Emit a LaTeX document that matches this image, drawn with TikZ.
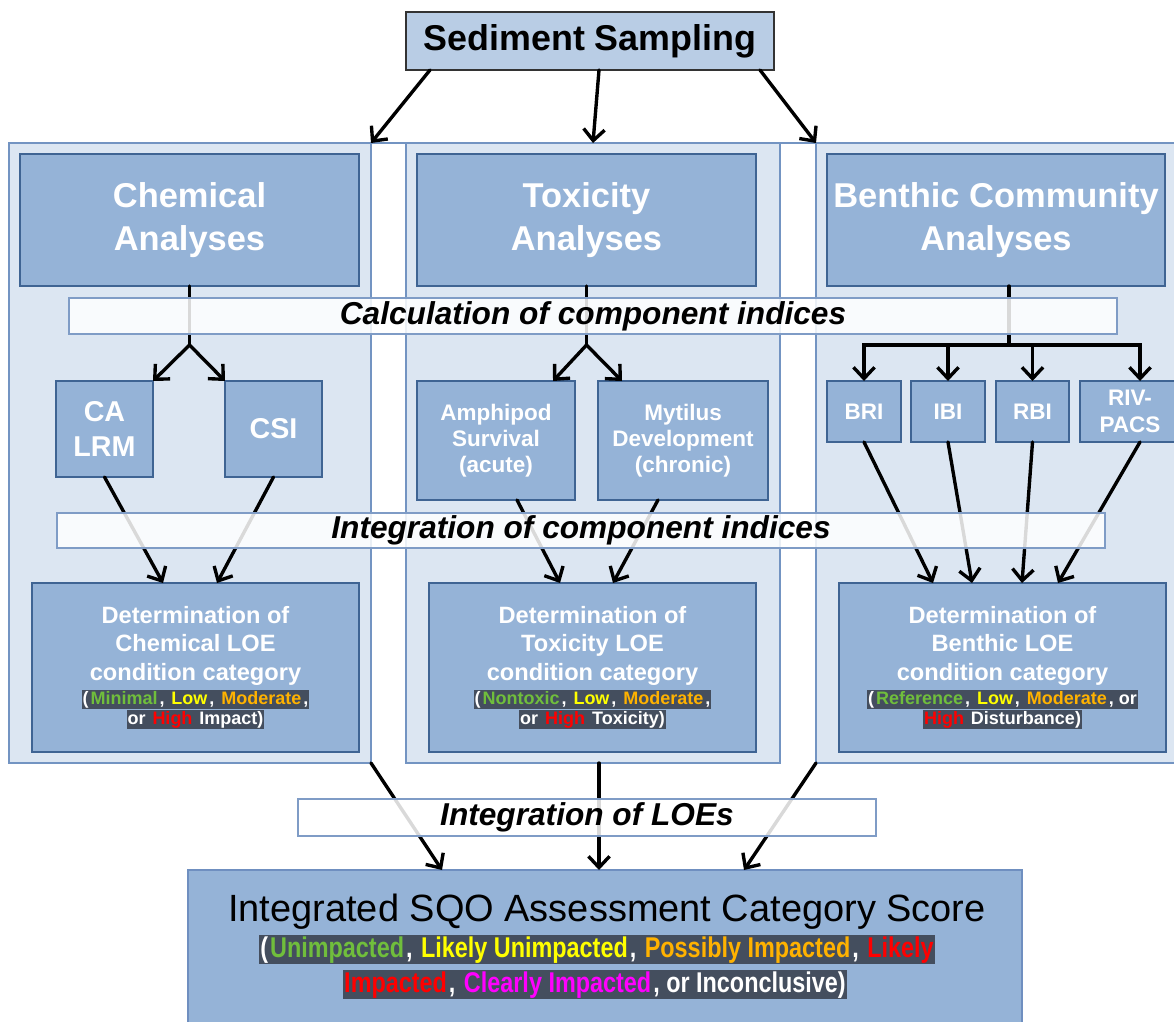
\documentclass[tikz,border=0pt]{standalone}
\usepackage{fontspec}
\setmainfont{Liberation Sans}
\newfontfamily\narrowfont[FakeStretch=0.82]{Liberation Sans}
\usetikzlibrary{arrows.meta,calc}
\definecolor{boxfill}{HTML}{95B3D7}
\definecolor{boxline}{HTML}{3F6493}
\definecolor{panelfill}{HTML}{DCE6F2}
\definecolor{panelline}{HTML}{7394C2}
\definecolor{sedfill}{HTML}{B9CDE5}
\definecolor{bandline}{HTML}{7F9CC6}
\definecolor{finline}{HTML}{6F8FC0}
\definecolor{halo}{RGB}{68,78,94}
\definecolor{cgreen}{RGB}{112,190,60}
\definecolor{cyellow}{RGB}{255,255,0}
\definecolor{corange}{RGB}{255,178,0}
\definecolor{cred}{RGB}{255,0,0}
\definecolor{cmag}{RGB}{255,0,255}
\newcommand\hl[2]{{\setlength\fboxsep{0.7pt}\colorbox{halo}{\vphantom{(}\textcolor{#1}{#2}}}}
\newcommand\sm[1]{{\fontsize{12.8}{14}\selectfont #1}}
\newcommand\rbox[7]{\node[#2, anchor=north west, minimum width={(#5-#3)*0.025cm}, minimum height={(#6-#4)*0.025cm}] (#1) at (#3,#4) {#7};}
\begin{document}
\begin{tikzpicture}[x=0.025cm,y=-0.025cm,
  every node/.style={inner sep=0pt, outer sep=0pt},
  panel/.style={draw=panelline, fill=panelfill, line width=0.9pt},
  bbox/.style={draw=boxline, fill=boxfill, line width=1.6pt, text=white, align=center},
  bigtxt/.style={font=\bfseries\fontsize{24.5}{30.6}\selectfont},
  loetxt/.style={font=\bfseries\fontsize{16.8}{20.3}\selectfont},
  idxtxt/.style={font=\bfseries\fontsize{16}{19}\selectfont},
  toxtxt/.style={font=\bfseries\fontsize{16}{18.5}\selectfont},
  sedbox/.style={draw=black!80, fill=sedfill, line width=1.1pt, font=\bfseries\fontsize{25.5}{30}\selectfont},
  band/.style={draw=bandline, fill=white, fill opacity=0.85, text opacity=1, line width=0.9pt, font=\bfseries\itshape\fontsize{22.5}{26}\selectfont},
  finbox/.style={draw=finline, fill=boxfill, line width=1pt},
  conn/.style={line width=2.4pt, black, line cap=round},
  arr/.style={conn, -{Straight Barb[length=8pt,width=15pt]}}]
\useasboundingbox (0,0) rectangle (1174,1021);
\clip (0,0) rectangle (1174,1021);
\fill[white] (0,0) rectangle (1174,1021);
% panels
\rbox{lp}{panel}{9}{143}{371}{763}{}
\rbox{mp}{panel}{406}{143}{780}{763}{}
\rbox{rp}{panel}{816}{143}{1190}{763}{}
\draw[panelline, line width=0.9pt] (lp.north east) -- (mp.north west) (mp.north east) -- (rp.north west);
% top box
\rbox{sed}{sedbox}{406}{12}{774}{70}{Sediment Sampling}
% analyses boxes
\rbox{ch}{bbox, bigtxt}{20}{154}{359}{286}{Chemical\\Analyses}
\rbox{tx}{bbox, bigtxt}{417}{154}{756}{286}{Toxicity\\Analyses}
\rbox{bc}{bbox, bigtxt}{827}{154}{1165}{286}{Benthic Community\\Analyses}
% component boxes
\rbox{calrm}{bbox, font=\bfseries\fontsize{20.4}{25}\selectfont}{56}{381}{153}{477}{CA\\LRM}
\rbox{csi}{bbox, font=\bfseries\fontsize{20.4}{25}\selectfont}{225}{381}{322}{477}{CSI}
\rbox{amph}{bbox, toxtxt}{417}{381}{575}{500}{Amphipod\\Survival\\(acute)}
\rbox{myt}{bbox, toxtxt}{598}{381}{768}{500}{Mytilus\\Development\\(chronic)}
\rbox{bri}{bbox, idxtxt}{827}{381}{901}{442}{BRI}
\rbox{ibi}{bbox, idxtxt}{911}{381}{985}{442}{IBI}
\rbox{rbi}{bbox, idxtxt}{996}{381}{1069}{442}{RBI}
\rbox{riv}{bbox, idxtxt}{1080}{381}{1180}{442}{RIV-\\PACS}
% LOE boxes
\rbox{chloe}{bbox, loetxt}{32}{583}{359}{752}{Determination of\\Chemical LOE\\condition category\\[-3.3pt]\sm{\hl{white}{(}\hl{cgreen}{Minimal}\hl{white}{,\ }\hl{cyellow}{Low}\hl{white}{,\ }\hl{corange}{Moderate}\hl{white}{,}}\\[-6.1pt]\sm{\hl{white}{or\ }\hl{cred}{High}\hl{white}{\ Impact)}}}
\rbox{tloe}{bbox, loetxt}{429}{583}{756}{752}{Determination of\\Toxicity LOE\\condition category\\[-3.3pt]\sm{\hl{white}{(}\hl{cgreen}{Nontoxic}\hl{white}{,\ }\hl{cyellow}{Low}\hl{white}{,\ }\hl{corange}{Moderate}\hl{white}{,}}\\[-6.1pt]\sm{\hl{white}{or\ }\hl{cred}{High}\hl{white}{\ Toxicity)}}}
\rbox{bloe}{bbox, loetxt}{839}{583}{1166}{752}{Determination of\\Benthic LOE\\condition category\\[-3.3pt]\sm{\hl{white}{(}\hl{cgreen}{Reference}\hl{white}{,\ }\hl{cyellow}{Low}\hl{white}{,\ }\hl{corange}{Moderate}\hl{white}{,\ or}}\\[-6.1pt]\sm{\hl{cred}{High}\hl{white}{\ Disturbance)}}}
% final box
\rbox{fin}{finbox}{188}{870}{1022}{1040}{}
% connectors: sampling
\draw[arr] ($(sed.south west)+(24,0)$) -- (lp.north east);
\draw[arr] ($(sed.south)+(9,0)$) -- (mp.north);
\draw[arr] ($(sed.south east)+(-14,0)$) -- (rp.north west);
% chemical branch
\coordinate (cj) at ($(ch.south)+(0,59)$);
\draw[conn] (ch.south) -- (cj);
\draw[arr] (cj) -- (calrm.north east);
\draw[arr] (cj) -- (csi.north west);
% toxicity branch
\coordinate (tj) at ($(tx.south)+(0,59)$);
\draw[conn] (tx.south) -- (tj);
\draw[arr] (tj) -- ($(amph.north east)+(-22,0)$);
\draw[arr] (tj) -- ($(myt.north west)+(24,0)$);
% benthic branch
\coordinate (bj) at ($(bc.south)+(13,59)$);
\draw[conn] ($(bc.south)+(13,0)$) -- (bj);
\draw[arr] (bj) -| (bri.north);
\draw[arr] (bj) -| (ibi.north);
\draw[arr] (bj) -| (rbi.north);
\draw[arr] (bj) -| ($(riv.north)+(10,0)$);
% to LOE boxes
\draw[arr] (calrm.south) -- ($(chloe.north west)+(131,0)$);
\draw[arr] (csi.south) -- ($(chloe.north west)+(185,0)$);
\draw[arr] ($(amph.south)+(21,0)$) -- ($(tloe.north west)+(131,0)$);
\draw[arr] ($(myt.south)+(-25,0)$) -- ($(tloe.north west)+(184,0)$);
\draw[arr] (bri.south) -- ($(bloe.north west)+(94,0)$);
\draw[arr] (ibi.south) -- ($(bloe.north west)+(133,0)$);
\draw[arr] (rbi.south) -- ($(bloe.north west)+(183,0)$);
\draw[arr] ($(riv.south)+(10,0)$) -- ($(bloe.north west)+(219,0)$);
% to final
\draw[arr] (lp.south east) -- ($(fin.north west)+(254,0)$);
\draw[arr] ($(mp.south)+(6,0)$) -- ($(fin.north west)+(411,0)$);
\draw[arr] (rp.south west) -- ($(fin.north west)+(556,0)$);
% bands
\rbox{b1}{band}{69}{298}{1117}{334}{Calculation of component indices}
\rbox{b2}{band}{57}{513}{1105}{548}{Integration of component indices}
\rbox{b3}{band}{298}{799}{876}{836}{Integration of LOEs}
% final texts
\node[anchor=base, font=\fontsize{27}{30}\selectfont] (fint) at (607,921) {Integrated SQO Assessment Category Score};
\node[anchor=base, font=\narrowfont\bfseries\fontsize{20.3}{23}\selectfont] (finc1) at (597,957) {\hl{white}{(}\hl{cgreen}{Unimpacted}\hl{white}{,\ }\hl{cyellow}{Likely Unimpacted}\hl{white}{,\ }\hl{corange}{Possibly Impacted}\hl{white}{,\ }\hl{cred}{Likely}};
\node[anchor=base, font=\narrowfont\bfseries\fontsize{20.3}{23}\selectfont] (finc2) at (595,992) {\hl{cred}{Impacted}\hl{white}{,\ }\hl{cmag}{Clearly Impacted}\hl{white}{,\ or Inconclusive)}};
\end{tikzpicture}
\end{document}
